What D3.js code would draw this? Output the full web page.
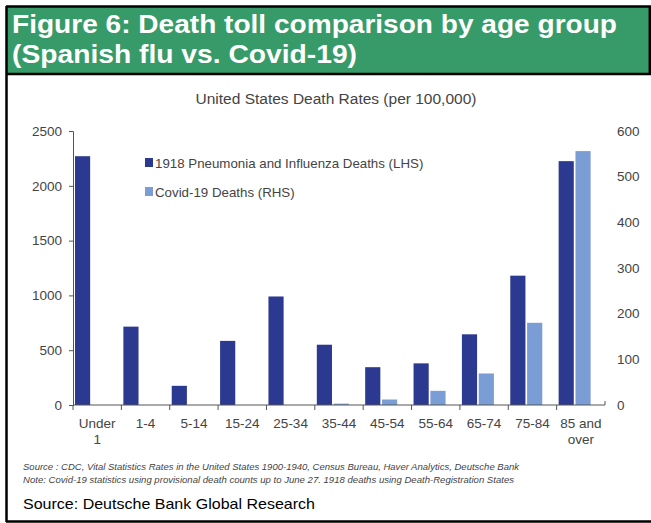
<!DOCTYPE html>
<html>
<head>
<meta charset="utf-8">
<script src="https://cdn.jsdelivr.net/npm/d3@7"></script>
<style>
  body { margin: 0; background: #fff; }
  svg { display: block; font-family: "Liberation Sans", Arial, sans-serif; }
</style>
</head>
<body>
<div id="container"></div>
<script>
/* DATA */
const ageGroups = ["Under 1", "1-4", "5-14", "15-24", "25-34", "35-44", "45-54", "55-64", "65-74", "75-84", "85 and over"];
const ageLabels = [["Under", "1"], ["1-4"], ["5-14"], ["15-24"], ["25-34"], ["35-44"], ["45-54"], ["55-64"], ["65-74"], ["75-84"], ["85 and", "over"]];
const flu1918 = [2270, 715, 175, 585, 990, 550, 345, 380, 645, 1180, 2225];   // LHS
const covid19 = [0, 0, 0, 0, 0, 3, 12, 31, 69, 180, 556];                     // RHS
const leftTicks = [0, 500, 1000, 1500, 2000, 2500];
const rightTicks = [0, 100, 200, 300, 400, 500, 600];
const seriesNames = ["1918 Pneumonia and Influenza Deaths (LHS)", "Covid-19 Deaths (RHS)"];

/* CONSTANTS */
const width = 651, height = 523;
const plot = { left: 73, right: 605, top: 131, bottom: 405 };
const darkBlue = "#2b3990", lightBlue = "#7b9dd6", green = "#379b69";

const svg = d3.select("#container")
  .append("svg")
  .attr("width", width)
  .attr("height", height);

svg.append("rect").attr("width", width).attr("height", height).attr("fill", "#fff");

// green title banner + frame
svg.append("rect")
  .attr("x", 7).attr("y", 7).attr("width", 643).attr("height", 66)
  .attr("fill", green);

const frame = svg.append("g").attr("stroke", "#000").attr("stroke-width", 2.5);
frame.append("line").attr("x1", 6).attr("x2", 651).attr("y1", 6.5).attr("y2", 6.5);
frame.append("line").attr("x1", 6).attr("x2", 651).attr("y1", 74).attr("y2", 74);
frame.append("line").attr("x1", 6.5).attr("x2", 6.5).attr("y1", 6).attr("y2", 522);
frame.append("line").attr("x1", 6).attr("x2", 651).attr("y1", 521.5).attr("y2", 521.5);
frame.append("line").attr("x1", 649.8).attr("x2", 649.8).attr("y1", 6).attr("y2", 74);

// banner title, stretched a little to the width of the original
svg.append("text")
  .attr("x", 12).attr("y", 33)
  .attr("fill", "#fff").attr("font-weight", "bold").attr("font-size", 25)
  .attr("textLength", 605).attr("lengthAdjust", "spacingAndGlyphs")
  .text("Figure 6: Death toll comparison by age group");
svg.append("text")
  .attr("x", 12).attr("y", 63)
  .attr("fill", "#fff").attr("font-weight", "bold").attr("font-size", 25)
  .attr("textLength", 345).attr("lengthAdjust", "spacingAndGlyphs")
  .text("(Spanish flu vs. Covid-19)");

// chart title
svg.append("text")
  .attr("x", 336).attr("y", 104)
  .attr("text-anchor", "middle")
  .attr("fill", "#444").attr("font-size", 15.5)
  .text("United States Death Rates (per 100,000)");

/* SCALES */
const x = d3.scaleBand()
  .domain(ageGroups)
  .range([plot.left, plot.right]);

const xInner = d3.scaleBand()
  .domain(["flu", "covid"])
  .range([2, 34])
  .paddingInner(0.1);

const yLeft = d3.scaleLinear().domain([0, 2500]).range([plot.bottom, plot.top]);
const yRight = d3.scaleLinear().domain([0, 600]).range([plot.bottom, plot.top]);

/* BARS */
const rows = ageGroups.map((g, i) => ({ group: g, flu: flu1918[i], covid: covid19[i] }));

svg.selectAll("rect.flu")
  .data(rows)
  .join("rect")
  .attr("class", "flu")
  .attr("x", d => x(d.group) + xInner("flu"))
  .attr("width", xInner.bandwidth())
  .attr("y", d => yLeft(d.flu))
  .attr("height", d => yLeft(0) - yLeft(d.flu))
  .attr("fill", darkBlue);

svg.selectAll("rect.covid")
  .data(rows.filter(d => d.covid > 0))
  .join("rect")
  .attr("class", "covid")
  .attr("x", d => x(d.group) + xInner("covid"))
  .attr("width", xInner.bandwidth())
  .attr("y", d => yRight(d.covid))
  .attr("height", d => yRight(0) - yRight(d.covid))
  .attr("fill", lightBlue);

/* AXES */
const axisColor = "#555", labelColor = "#444";

const leftAxis = svg.append("g")
  .attr("transform", `translate(${plot.left},0)`)
  .call(d3.axisLeft(yLeft).tickValues(leftTicks).tickSize(4).tickPadding(7).tickFormat(d3.format("d")));
leftAxis.selectAll("path, line").attr("stroke", axisColor);
leftAxis.selectAll("text").attr("fill", labelColor).attr("font-size", 13.5).attr("font-family", "Liberation Sans, Arial, sans-serif");

const rightAxis = svg.append("g")
  .attr("transform", `translate(${plot.right},0)`)
  .call(d3.axisRight(yRight).tickValues(rightTicks).tickSize(0).tickPadding(12));
rightAxis.select(".domain").remove();
rightAxis.selectAll("text").attr("fill", labelColor).attr("font-size", 13.5).attr("font-family", "Liberation Sans, Arial, sans-serif");

// x axis: baseline with ticks at category boundaries
const xAxis = svg.append("g");
xAxis.append("line")
  .attr("x1", plot.left).attr("x2", plot.right)
  .attr("y1", plot.bottom).attr("y2", plot.bottom)
  .attr("stroke", axisColor);
xAxis.selectAll("line.tick")
  .data(ageGroups)
  .join("line")
  .attr("class", "tick")
  .attr("x1", d => x(d)).attr("x2", d => x(d))
  .attr("y1", plot.bottom).attr("y2", plot.bottom + 5)
  .attr("stroke", axisColor);
xAxis.append("line")
  .attr("x1", plot.right).attr("x2", plot.right)
  .attr("y1", plot.bottom).attr("y2", plot.bottom - 4)
  .attr("stroke", axisColor);

const xLabels = svg.selectAll("text.xlab")
  .data(ageGroups)
  .join("text")
  .attr("class", "xlab")
  .attr("x", d => x(d) + x.bandwidth() / 2)
  .attr("y", 428)
  .attr("text-anchor", "middle")
  .attr("fill", labelColor)
  .attr("font-size", 13.5);
xLabels.selectAll("tspan")
  .data((d, i) => ageLabels[i])
  .join("tspan")
  .attr("x", function () { return d3.select(this.parentNode).attr("x"); })
  .attr("dy", (d, i) => i === 0 ? 0 : 16)
  .text(d => d);

/* LEGEND */
const legend = svg.append("g").attr("transform", "translate(145,158)");
legend.selectAll("rect")
  .data(seriesNames)
  .join("rect")
  .attr("x", 0)
  .attr("y", (d, i) => i * 29)
  .attr("width", 8).attr("height", 9)
  .attr("fill", (d, i) => i === 0 ? darkBlue : lightBlue);
legend.selectAll("text")
  .data(seriesNames)
  .join("text")
  .attr("x", 10)
  .attr("y", (d, i) => i * 29 + 10)
  .attr("fill", labelColor)
  .attr("font-size", 13.3)
  .text(d => d);

/* NOTES */
svg.append("text")
  .attr("x", 23).attr("y", 470)
  .attr("font-size", 8.5).attr("font-style", "italic").attr("fill", "#444")
  .attr("textLength", 496).attr("lengthAdjust", "spacingAndGlyphs")
  .text("Source : CDC, Vital Statistics Rates in the United States 1900-1940, Census Bureau, Haver Analytics, Deutsche Bank");
svg.append("text")
  .attr("x", 23).attr("y", 483)
  .attr("font-size", 8.5).attr("font-style", "italic").attr("fill", "#444")
  .attr("textLength", 491).attr("lengthAdjust", "spacingAndGlyphs")
  .text("Note: Covid-19 statistics using provisional death counts up to June 27. 1918 deaths using Death-Registration States");

svg.append("text")
  .attr("x", 23).attr("y", 509)
  .attr("font-size", 15).attr("fill", "#000")
  .attr("textLength", 292).attr("lengthAdjust", "spacingAndGlyphs")
  .text("Source: Deutsche Bank Global Research");
</script>
</body>
</html>
